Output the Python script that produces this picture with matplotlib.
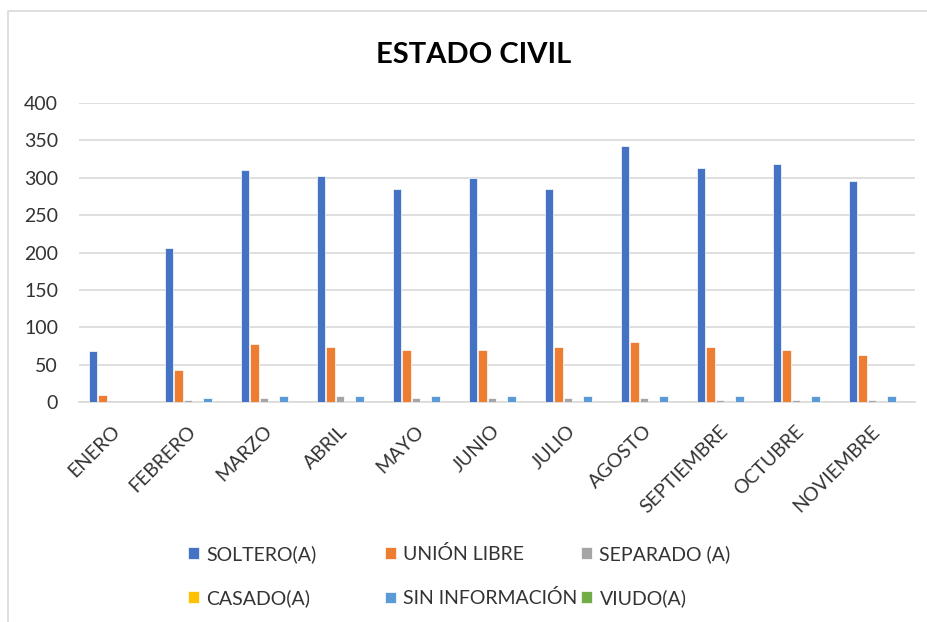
import numpy as np
import matplotlib
matplotlib.use("Agg")
import matplotlib.pyplot as plt
from matplotlib.patches import Rectangle

plt.rcParams['font.family'] = ['Lato', 'DejaVu Sans']

months = ["ENERO", "FEBRERO", "MARZO", "ABRIL", "MAYO", "JUNIO",
          "JULIO", "AGOSTO", "SEPTIEMBRE", "OCTUBRE", "NOVIEMBRE"]
soltero = [68, 206, 311, 303, 285, 300, 285, 343, 313, 318, 296]
union_libre = [10, 43, 78, 73, 70, 70, 73, 80, 73, 70, 63]
separado = [0, 3, 5, 8, 5, 5, 5, 5, 3, 3, 3]
casado = [0, 0, 0, 0, 0, 0, 0, 0, 0, 0, 0]
sin_info = [0, 5, 8, 8, 8, 8, 8, 8, 8, 8, 8]
viudo = [0, 0, 0, 0, 0, 0, 0, 0, 0, 0, 0]

series_names = ["SOLTERO(A)", "UNIÓN LIBRE", "SEPARADO (A)",
                "CASADO(A)", "SIN INFORMACIÓN", "VIUDO(A)"]
series_values = [soltero, union_libre, separado, casado, sin_info, viudo]
colors = ["#4472C4", "#ED7D31", "#A5A5A5", "#FFC000", "#5B9BD5", "#70AD47"]

W, H = 927, 622
fig = plt.figure(figsize=(W / 100, H / 100), dpi=100)
ax = fig.add_axes([79 / W, 1 - 402 / H, 836 / W, 299 / H])

text_color = '#333333'
x = np.arange(len(months))
slot = 0.127
bw = 0.11
bars = []
for i, (name, vals, c) in enumerate(zip(series_names, series_values, colors)):
    b = ax.bar(x + (i - 2.5) * slot, vals, bw, color=c, edgecolor='white',
               linewidth=0.5, label=name, zorder=3)
    bars.append(b)

ax.set_xlim(-0.5, len(months) - 0.5)
ax.set_ylim(0, 400)
ax.set_yticks(np.arange(0, 401, 50))
ax.grid(axis='y', color='#D9D9D9', linewidth=1.2, zorder=0)
ax.set_axisbelow(True)
for s in ['top', 'right', 'left']:
    ax.spines[s].set_visible(False)
ax.spines['bottom'].set_color('#D9D9D9')
ax.spines['bottom'].set_linewidth(1.2)
ax.tick_params(axis='y', length=0, pad=15, labelsize=14, labelcolor=text_color)
ax.tick_params(axis='x', length=0, pad=19, labelsize=14, labelcolor=text_color)
ax.set_xticks(x)
ax.set_xticklabels(months, rotation=45, ha='right', va='center',
                   rotation_mode='anchor')

fig.text(474 / W, 1 - 55 / H, "ESTADO CIVIL", ha='center', va='center',
         fontsize=21, fontweight='bold', color='#000000')

# chart border (top / left edges visible in the screenshot)
fig.add_artist(Rectangle((8 / W, -0.1), 1.2, 1.1 - 11 / H, fill=False,
                         edgecolor='#D9D9D9', linewidth=1.2,
                         transform=fig.transFigure))

# legend: three columns with equal spacing, row-major order
col_x = [188, 385, 581]
for k in range(3):
    handles = [bars[k], bars[k + 3]]
    labels = [series_names[k], series_names[k + 3]]
    fig.legend(handles, labels, loc='upper left',
               bbox_to_anchor=(col_x[k] / W, 1 - 545 / H),
               frameon=False, fontsize=14, handlelength=0.55,
               handleheight=0.55, handletextpad=0.4, labelspacing=1.35,
               borderpad=0, borderaxespad=0, labelcolor=text_color)

fig.savefig("out.png", dpi=100)
